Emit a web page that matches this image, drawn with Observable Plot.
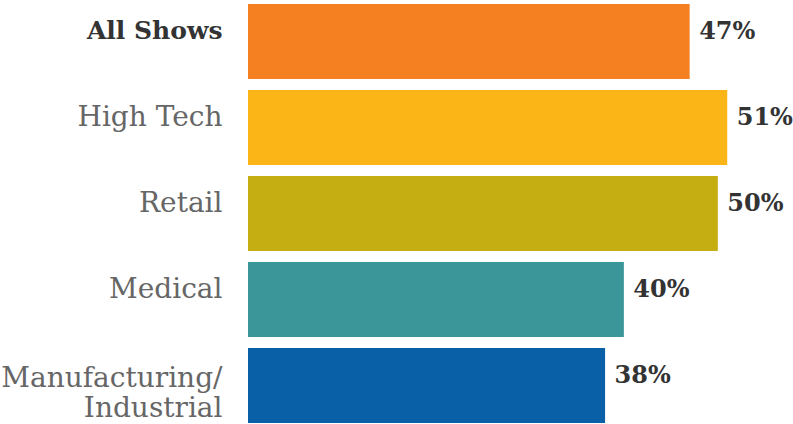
<!DOCTYPE html>
<html>
<head>
<meta charset="utf-8">
<script src="https://cdn.jsdelivr.net/npm/d3@7"></script>
<script src="https://cdn.jsdelivr.net/npm/@observablehq/plot@0.6"></script>
<style>
  html, body { margin: 0; padding: 0; background: #fff; }
  #chart svg { display: block; }
</style>
</head>
<body>
<div id="chart"></div>
<script>
const categories = ["All Shows", "High Tech", "Retail", "Medical", "Manufacturing/\nIndustrial"];
const values = [47, 51, 50, 40, 38];
const colors = ["#F58022", "#FBB516", "#C4AE12", "#3A9699", "#0A60A6"];
const valueLabels = ["47%", "51%", "50%", "40%", "38%"];

const data = categories.map((c, i) => ({category: c, value: values[i], label: valueLabels[i]}));
const font = "'DejaVu Serif', serif";

const chart = Plot.plot({
  width: 793,
  height: 424,
  marginLeft: 248,
  marginRight: 0,
  marginTop: 3,
  marginBottom: 0,
  style: {fontFamily: font, background: "#fff"},
  x: {domain: [0, 58], axis: null},
  y: {domain: categories, axis: null, paddingInner: 0.126, paddingOuter: 0},
  color: {domain: categories, range: colors},
  marks: [
    Plot.barX(data, {x: "value", y: "category", fill: "category"}),
    Plot.text(data, {
      x: "value", y: "category", text: "label",
      textAnchor: "start", dx: 9, dy: -11,
      fontSize: 24, fontWeight: "bold", fill: "#333"
    }),
    Plot.text(data.filter((d, i) => i === 0), {
      x: 0, y: "category", text: "category",
      textAnchor: "end", dx: -26, dy: -11,
      fontSize: 25, fontWeight: "bold", fill: "#333"
    }),
    Plot.text(data.filter((d, i) => i > 0 && !d.category.includes("\n")), {
      x: 0, y: "category", text: "category",
      textAnchor: "end", dx: -26, dy: -11,
      fontSize: 28, fill: "#666"
    }),
    Plot.text(data.filter(d => d.category.includes("\n")), {
      x: 0, y: "category", text: "category",
      textAnchor: "end", dx: -26, dy: 6, lineHeight: 1.08,
      fontSize: 28, fill: "#666"
    })
  ]
});
document.getElementById("chart").appendChild(chart);
</script>
</body>
</html>
